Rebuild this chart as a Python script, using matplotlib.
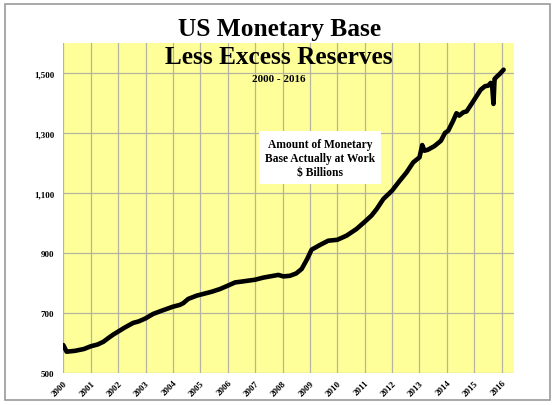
import numpy as np
import matplotlib
matplotlib.use("Agg")
import matplotlib.pyplot as plt
from matplotlib.patches import Rectangle

# monetary base less excess reserves, $ billions
years = [2000.00, 2000.12, 2000.43, 2000.75, 2001.00, 2001.25, 2001.46, 2001.65,
         2001.82, 2002.00, 2002.25, 2002.55, 2002.75, 2003.00, 2003.28, 2003.60,
         2004.00, 2004.25, 2004.38, 2004.56, 2004.87, 2005.00, 2005.42, 2005.72,
         2006.00, 2006.27, 2006.45, 2007.00, 2007.30, 2007.85, 2008.03, 2008.27,
         2008.50, 2008.70, 2008.90, 2009.06, 2009.37, 2009.67, 2010.00, 2010.34,
         2010.70, 2011.00, 2011.25, 2011.44, 2011.68, 2012.00, 2012.28, 2012.53,
         2012.77, 2013.00, 2013.10, 2013.18, 2013.30, 2013.54, 2013.78, 2013.93,
         2014.05, 2014.23, 2014.35, 2014.45, 2014.60, 2014.72, 2014.90, 2015.09,
         2015.23, 2015.39, 2015.51, 2015.60, 2015.65, 2015.70, 2015.74, 2015.80,
         2015.93, 2016.07]
base = [593, 571, 574, 580, 589, 595, 604, 617,
        628, 638, 652, 667, 672, 682, 697, 708,
        721, 727, 733, 747, 758, 761, 771, 780,
        791, 802, 804, 811, 818, 827, 822, 824,
        832, 847, 880, 911, 927, 941, 944, 958,
        980, 1004, 1025, 1047, 1080, 1108, 1141, 1169,
        1202, 1219, 1260, 1241, 1244, 1256, 1274, 1300,
        1308, 1341, 1366, 1358, 1369, 1372, 1397, 1424,
        1444, 1456, 1458, 1467, 1460, 1397, 1480, 1486,
        1497, 1511]

year_ticks = list(range(2000, 2017))
value_ticks = list(range(500, 1501, 200))

plt.rcParams['font.family'] = ['Liberation Serif', 'DejaVu Serif']
plt.rcParams['font.weight'] = 'bold'

fig = plt.figure(figsize=(5.56, 4.06), dpi=100)
ax = fig.add_axes([0.1139, 0.0788, 0.8101, 0.8128])

# grey frame around the whole chart
fig.patches.append(Rectangle((5 / 556, 5 / 406), 545 / 556, 396 / 406,
                             transform=fig.transFigure, fill=False,
                             edgecolor='#9a9a9a', linewidth=1.2))

ax.set_facecolor('#FFFF99')
ax.plot(years, base, color='black', linewidth=3.3, solid_capstyle='round',
        solid_joinstyle='round', zorder=3)

ax.set_xlim(2000, 2016.44)
ax.set_ylim(500, 1600)
ax.set_xticks(year_ticks)
ax.set_xticklabels([str(y) for y in year_ticks], rotation=45, ha='right',
                   va='top', rotation_mode='anchor', fontsize=6.5, fontweight='bold')
ax.set_yticks(value_ticks)
ax.set_yticklabels([f'{v:,}' for v in value_ticks], fontsize=6.5, fontweight='bold')
ax.tick_params(axis='both', length=0)
ax.tick_params(axis='y', pad=6.5)
ax.tick_params(axis='x', pad=4)
ax.grid(True, color='#b4b4a0', linewidth=0.9)
ax.set_axisbelow(True)
for s in ax.spines.values():
    s.set_visible(False)

fig.text(0.502, 0.911, 'US Monetary Base', ha='center', va='baseline',
         fontsize=18.3, fontweight='bold')
fig.text(0.502, 0.8416, 'Less Excess Reserves', ha='center', va='baseline',
         fontsize=18.2, fontweight='bold')
fig.text(0.502, 0.799, '2000 - 2016', ha='center', va='baseline',
         fontsize=8, fontweight='bold')

ax.text(2009.37, 1217, 'Amount of Monetary\nBase Actually at Work\n$ Billions',
        ha='center', va='center', fontsize=8.3, fontweight='bold', linespacing=1.25,
        bbox=dict(facecolor='white', edgecolor='none', pad=4.5), zorder=4)

fig.savefig('out.png', dpi=100)
